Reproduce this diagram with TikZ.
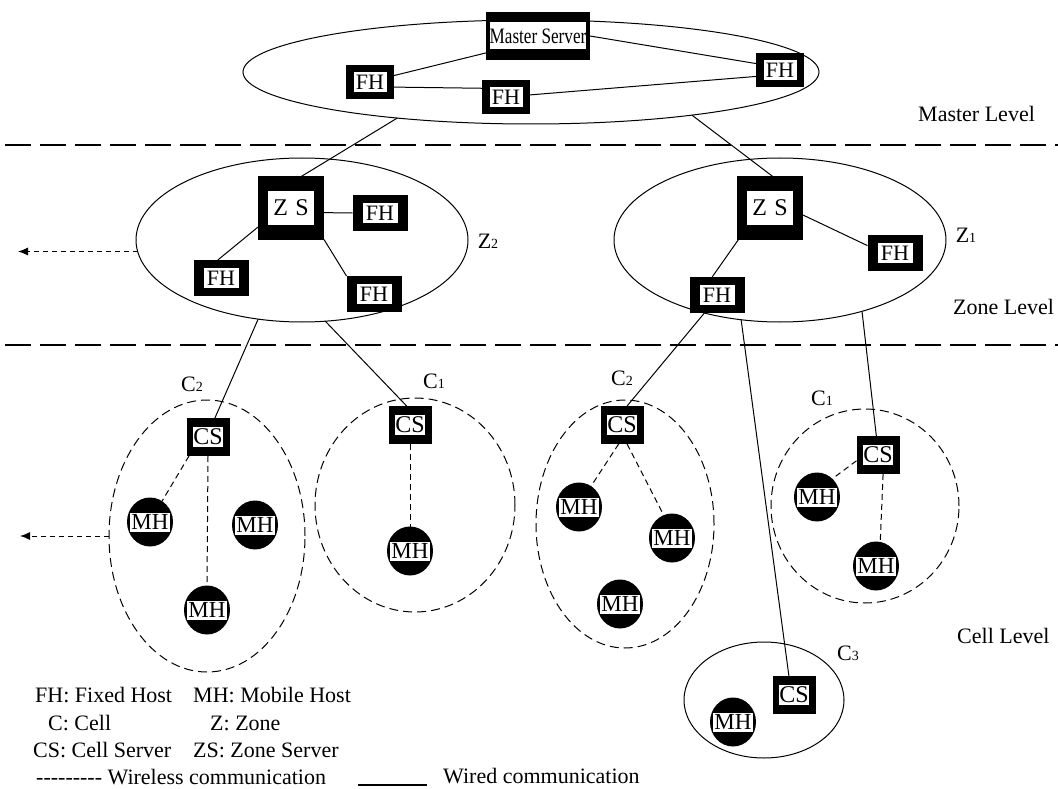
\documentclass[tikz,border=0pt]{standalone}
\usepackage{fontspec}
\usepackage{graphicx}
\setmainfont{Liberation Serif}
\usetikzlibrary{shapes.geometric,arrows.meta}
\newcommand{\hy}{\mbox{-}}
\newcommand{\fs}[1]{\fontsize{#1}{#1}\selectfont}
\newcommand{\lsub}[2]{#1{\fs{14}#2}}
% name, position, outer w, outer h, inner w, inner h, font size, text
\newcommand{\srvnode}[8]{%
  \node[blk,minimum width=#3,minimum height=#4] (#1) at (#2) {};
  \node[wht,minimum width=#5,minimum height=#6,font=\fs{#7}] (#1-t) at (#2) {#8};}
\newcommand{\mhnode}[2]{%
  \node[blk,ellipse,minimum width=46,minimum height=49] (#1) at (#2) {};
  \node[wht,minimum width=40,minimum height=19,font=\fs{23}] (#1-t) at (#2) {MH};}
\begin{document}
\begin{tikzpicture}[x=1pt,y=-1pt,
  blk/.style={fill=black,inner sep=0pt,outer sep=0pt},
  wht/.style={fill=white,inner sep=0pt,outer sep=0pt},
  ell/.style={draw,ellipse,inner sep=0pt,outer sep=0pt,line width=1pt},
  cell/.style={ell,dash pattern=on 9pt off 5pt},
  wire/.style={line width=1pt},
  wless/.style={line width=1pt,dash pattern=on 6pt off 4pt},
  lvl/.style={line width=1.1pt,dash pattern=on 26pt off 9pt},
  arr/.style={line width=1pt,dash pattern=on 5pt off 4pt,-{Latex[length=10pt,width=8pt]}},
  txt/.style={font=\fs{22},inner sep=0pt,anchor=base west},
  lab/.style={font=\fs{22},inner sep=0pt}
]
\fill[white] (0,0) rectangle (1058,789);
\useasboundingbox (0,0) rectangle (1058,789);

% level separators
\coordinate (l1a) at (5,145); \coordinate (l1b) at (1058,145);
\coordinate (l2a) at (5,345); \coordinate (l2b) at (1058,345);
\draw[lvl] (l1a) -- (l1b);
\draw[lvl] (l2a) -- (l2b);
\node[txt] (mlev) at (918,122) {Master Level};
\node[txt] (zlev) at (953,314) {Zone Level};
\node[txt] (clev) at (957,643) {Cell Level};

% master level
\node[ell,minimum width=576,minimum height=104] (M) at (531,72) {};
\srvnode{ms}{538,36}{104}{48}{95}{27}{22}{\scalebox{0.78}[1]{Master Server}}
\srvnode{fhL}{370,82}{48}{34}{33}{20}{22}{FH}
\srvnode{fhM}{506,97}{48}{34}{33}{20}{22}{FH}
\srvnode{fhR}{780,70}{48}{34}{33}{20}{22}{FH}
\draw[wire] (ms.-162) -- (fhL.15);
\draw[wire] (fhL.-12) -- (fhM.160);
\draw[wire] (fhM.5) -- (fhR.-165);
\draw[wire] (ms.east) -- (fhR.165);

% zone Z2
\node[ell,minimum width=332,minimum height=164] (Z2) at (302,240) {};
\srvnode{zs2}{291,208}{66}{63}{46}{34}{24}{Z\hspace{0.3em}S}
\srvnode{fha}{380,213}{55}{36}{35}{20}{22}{FH}
\srvnode{fhb}{221,278}{55}{36}{35}{20}{22}{FH}
\srvnode{fhc}{374,294}{55}{36}{35}{20}{22}{FH}
\draw[wire] (zs2.-8) -- (fha.west);
\draw[wire] (zs2.-150) -- (fhb.100);
\draw[wire] (zs2.south east) -- (fhc.north west);
\node[lab] (z2lab) at (488,241) {\lsub{Z}{2}};
\coordinate (arrZ) at (18,0);
\draw[arr] (Z2.184) -- (Z2.184 -| arrZ);

% zone Z1
\node[ell,minimum width=332,minimum height=164] (Z1) at (780,240) {};
\srvnode{zs1}{770,208}{66}{63}{46}{34}{24}{Z\hspace{0.3em}S}
\srvnode{fhd}{895,253}{55}{36}{35}{20}{22}{FH}
\srvnode{fhe}{717,295}{55}{36}{35}{20}{22}{FH}
\draw[wire] (zs1.-12) -- (fhd.165);
\draw[wire] (zs1.-135) -- (fhe.105);
\node[lab] (z1lab) at (966,235) {\lsub{Z}{1}};

% master to zones
\draw[wire] (M.-161) -- (zs2.72);
\draw[wire] (M.-15) -- (zs1.85);

% cell C2 (left)
\node[cell,minimum width=196,minimum height=272] (c2L) at (207,536) {};
\srvnode{cs2L}{208,437}{43}{38}{29}{20}{24}{CS}
\mhnode{mha}{150,522}
\mhnode{mhb}{255,525}
\mhnode{mhc}{207,610}
\draw[wless] (cs2L.-135) -- (mha.60);
\draw[wless] (cs2L.south) -- (mhc.north);
\node[lab] (c2Llab) at (192,384) {\lsub{C}{2}};
\coordinate (arrC) at (20,0);
\draw[arr] (c2L.west) -- (c2L.west -| arrC);

% cell C1 (left)
\node[cell,minimum width=200,minimum height=214] (c1L) at (415,505) {};
\srvnode{cs1L}{410,425}{43}{38}{29}{20}{24}{CS}
\mhnode{mhd}{410,551}
\draw[wless] (cs1L.south) -- (mhd.north);
\node[lab] (c1Llab) at (434,381) {\lsub{C}{1}};

% zone Z2 to cells
\draw[wire] (Z2.-119) -- (cs2L.70);
\draw[wire] (Z2.-74) -- (cs1L.100);

% cell C2 (middle)
\node[cell,minimum width=178,minimum height=248] (c2M) at (625,524) {};
\srvnode{cs2M}{622,425}{43}{38}{29}{20}{24}{CS}
\mhnode{mhe}{579,507}
\mhnode{mhf}{672,538}
\mhnode{mhg}{620,604}
\draw[wless] (cs2M.-100) -- (mhe.60);
\draw[wless] (cs2M.-75) -- (mhf.110);
\node[lab] (c2Mlab) at (622,378) {\lsub{C}{2}};
\draw[wire] (fhe.-125) -- (cs2M.75);

% cell C1 (right)
\node[cell,minimum width=188,minimum height=194] (c1R) at (865,506) {};
\srvnode{cs1R}{878,455}{43}{38}{29}{20}{24}{CS}
\mhnode{mhh}{817,497}
\mhnode{mhi}{876,566}
\draw[wless] (cs1R.-165) -- (mhh.50);
\draw[wless] (cs1R.-75) -- (mhi.80);
\node[lab] (c1Rlab) at (822,398) {\lsub{C}{1}};
\draw[wire] (Z1.-41) -- (cs1R.95);

% cell C3
\node[ell,minimum width=160,minimum height=116] (c3) at (764,700) {};
\srvnode{cs3}{794,695}{43}{38}{29}{20}{24}{CS}
\mhnode{mhj}{733,722}
\node[lab] (c3lab) at (848,653) {\lsub{C}{3}};
\draw[wire] (Z1.-116) -- (cs3.105);

% legend
\node[txt] (lg1) at (35,702) {FH: Fixed Host};
\node[txt] (lg2) at (193,702) {MH: Mobile Host};
\node[txt] (lg3) at (48,730) {C: Cell};
\node[txt] (lg4) at (210,730) {Z: Zone};
\node[txt] (lg5) at (33,757) {CS: Cell Server};
\node[txt] (lg6) at (193,757) {ZS: Zone Server};
\node[txt] (lg7) at (36,784) {\hy\hy\hy\hy\hy\hy\hy\hy\hy\ Wireless communication};
\coordinate (wa) at (358,785); \coordinate (wb) at (427,785);
\draw[line width=1.2pt] (wa) -- (wb);
\node[txt] (lg8) at (443,783) {Wired communication};
\end{tikzpicture}
\end{document}
